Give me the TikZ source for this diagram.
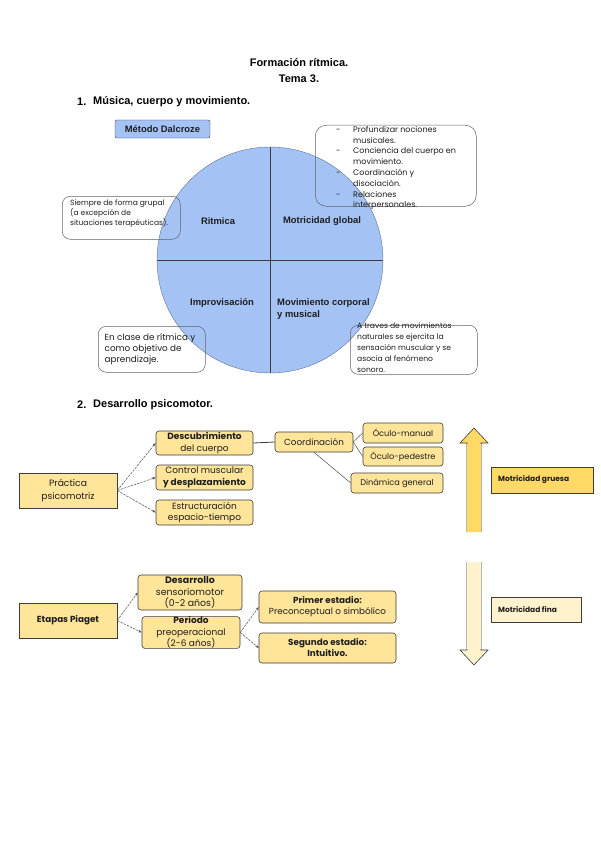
\documentclass[tikz,border=0pt]{standalone}
\usepackage{fontspec}
\setmainfont{Liberation Sans}
\newfontfamily\gothic{Poppins}
\usetikzlibrary{arrows.meta}
\definecolor{dblue}{HTML}{A4C2F4}
\definecolor{ylw}{HTML}{FFE599}
\definecolor{ylwd}{HTML}{FFD966}
\definecolor{ylwl}{HTML}{FFF2CC}
\definecolor{edgec}{HTML}{3C3C3C}
\definecolor{txt}{HTML}{1E1E1E}
\tikzset{
  ybox/.style={draw=edgec, fill=ylw, line width=0.6pt, rounded corners=3pt, align=center,
    inner sep=0pt, text=txt, font=\gothic\fontsize{9}{11.5}\selectfont},
  sqbox/.style={ybox, rounded corners=0pt},
  callout/.style={draw=edgec!80, line width=0.5pt, rounded corners=8pt, inner sep=0pt},
  ctext/.style={anchor=north west, inner sep=0pt, align=left, text=txt},
  quad/.style={font=\bfseries\fontsize{9.4}{12}\selectfont, text=txt, inner sep=0pt},
  head/.style={font=\bfseries\fontsize{11}{13}\selectfont, text=black, inner sep=0pt},
  conn/.style={draw=edgec!90, line width=0.5pt, dash pattern=on 2.5pt off 1pt, -{Stealth[length=3.5pt,width=2.5pt]}},
  plain/.style={draw=edgec!90, line width=0.5pt},
}
\begin{document}
\begin{tikzpicture}[x=1pt,y=-1pt]
\useasboundingbox (0,0) rectangle (600,848);
\fill[white] (0,0) rectangle (600,848);

% titles
\node[head] (t1) at (299,63) {Formación rítmica.};
\node[head] (t2) at (299,79) {Tema 3.};
\node[head, anchor=west] (h1n) at (77,102) {1.};
\node[head, anchor=west] (h1) at (93,102) {Música, cuerpo y movimiento.};

% Dalcroze
\node[draw=edgec, fill=dblue, rounded corners=2pt, minimum width=95, minimum height=18, inner sep=0pt,
  font=\bfseries\fontsize{9.4}{11}\selectfont, text=txt] (dal) at (162.5,129) {Método Dalcroze};

% circle
\node[circle, fill=dblue, draw=dblue!60!black, line width=0.4pt, minimum size=226pt, inner sep=0pt] (circ) at (270,260) {};
\draw[edgec, line width=0.7pt] (circ.north) -- (circ.south);
\draw[edgec, line width=0.7pt] (circ.west) -- (circ.east);
\node[quad] (q1) at (218,221) {Ritmica};
\node[quad] (q2) at (322,221) {Motricidad global};
\node[quad] (q3) at (222,303) {Improvisación};
\node[quad, anchor=west, align=left] (q4) at (277,309) {Movimiento corporal\\y musical};

% callouts
\node[callout, minimum width=118, minimum height=43, anchor=north west] (c1) at (62,196) {};
\node[ctext, font=\gothic\fontsize{7.5}{8.8}\selectfont] (c1t) at (70,200) {Siempre de forma grupal\\(a excepción de\\situaciones terapéuticas).};

\node[callout, rounded corners=11pt, minimum width=161, minimum height=81, anchor=north west] (c2) at (315,125) {};
\node[ctext, font=\gothic\fontsize{8}{10.8}\selectfont] (c2t) at (336,124.5) {\begin{tabular}{@{}p{17pt}@{}l@{}}
-&Profundizar nociones\\ &musicales.\\
-&Conciencia del cuerpo en\\ &movimiento.\\
-&Coordinación y\\ &disociación.\\
-&Relaciones\\ &interpersonales.\end{tabular}};

\node[callout, minimum width=107, minimum height=46, anchor=north west] (c3) at (98,326) {};
\node[ctext, font=\gothic\fontsize{8.8}{11.2}\selectfont] (c3t) at (104.5,333.5) {En clase de rítmica y\\como objetivo de\\aprendizaje.};

\node[callout, minimum width=127, minimum height=49, anchor=north west] (c4) at (350,325) {};
\node[ctext, font=\gothic\fontsize{7.6}{11}\selectfont] (c4t) at (357,322.5) {A traves de movimientos\\naturales se ejercita la\\sensación muscular y se\\asocia al fenómeno\\sonoro.};

% section 2
\node[head, anchor=west] (h2n) at (77,405) {2.};
\node[head, anchor=west] (h2) at (93,405) {Desarrollo psicomotor.};

\node[sqbox, minimum width=98, minimum height=35, font=\gothic\fontsize{9.2}{13}\selectfont] (prac) at (68,490.5) {Práctica\\psicomotriz};
\node[ybox, minimum width=97, minimum height=24] (desc) at (204.5,443) {\bfseries Descubrimiento\\del cuerpo};
\node[ybox, minimum width=97, minimum height=25] (ctrl) at (204.5,477.5) {Control muscular\\\bfseries y desplazamiento};
\node[ybox, minimum width=97, minimum height=25] (estr) at (204.5,512.5) {Estructuración\\espacio-tiempo};
\node[ybox, minimum width=78, minimum height=20, font=\gothic\fontsize{8.8}{10}\selectfont] (coord) at (314,442) {Coordinación};
\node[ybox, minimum width=80, minimum height=20, font=\gothic\fontsize{8.2}{10}\selectfont] (ocm) at (403,433) {Óculo-manual};
\node[ybox, minimum width=80, minimum height=19, font=\gothic\fontsize{8.2}{10}\selectfont] (ocp) at (403,456.5) {Óculo-pedestre};
\node[ybox, minimum width=92, minimum height=20, font=\gothic\fontsize{8.2}{10}\selectfont] (din) at (397,483) {Dinámica general};

\draw[conn] (prac.east) -- (desc.west);
\draw[conn] (prac.east) -- (ctrl.west);
\draw[conn] (prac.east) -- (estr.west);
\draw[edgec, line width=0.8pt] (desc.east) -- (coord.west);
\draw[plain] (coord.east) -- (ocm.west);
\draw[plain] (coord.east) -- (ocp.west);
\draw[plain] (coord.south) -- (din.west);

% block arrows
\draw[edgec, line width=0.6pt, fill=ylwd] (467,532) -- (467,443) -- (460,443) -- (474,428) -- (488,443) -- (481,443) -- (481,532);
\fill[ylwd] (467.3,532) rectangle (480.7,444);
\draw[edgec, line width=0.6pt, fill=ylwl] (467,562) -- (467,650) -- (460,650) -- (474,665) -- (488,650) -- (481,650) -- (481,562);
\fill[ylwl] (467.3,562) rectangle (480.7,649);

\node[draw=edgec, fill=ylwd, line width=0.6pt, minimum width=102, minimum height=26, anchor=north west, inner sep=0pt] (mg) at (491,467) {};
\node[anchor=west, inner sep=0pt, text=txt, font=\gothic\bfseries\fontsize{7.5}{9}\selectfont] (mgt) at (498,480) {Motricidad gruesa};
\node[draw=edgec, fill=ylwl, line width=0.6pt, minimum width=90, minimum height=25, anchor=north west, inner sep=0pt] (mf) at (491,597) {};
\node[anchor=west, inner sep=0pt, text=txt, font=\gothic\bfseries\fontsize{7.5}{9}\selectfont] (mft) at (498,609.5) {Motricidad fina};

% Piaget
\node[sqbox, minimum width=98, minimum height=35, font=\gothic\bfseries\fontsize{8.8}{10}\selectfont] (piag) at (68,620.5) {Etapas Piaget};
\node[ybox, minimum width=104, minimum height=35, font=\gothic\fontsize{9.4}{11.6}\selectfont] (sens) at (190,592.5) {\bfseries Desarrollo\\sensoriomotor\\(0-2 años)};
\node[ybox, minimum width=98, minimum height=31, font=\gothic\fontsize{9}{11.5}\selectfont] (preo) at (191,632.5) {\bfseries Periodo\\preoperacional\\(2-6 años)};
\node[ybox, minimum width=137, minimum height=32, font=\gothic\fontsize{8.8}{11}\selectfont] (prim) at (327.5,607) {\bfseries Primer estadio:\\Preconceptual o simbólico};
\node[ybox, minimum width=137, minimum height=30, font=\gothic\fontsize{8.8}{11}\selectfont] (seg) at (327.5,648) {\bfseries Segundo estadio:\\\bfseries Intuitivo.};

\draw[conn] (piag.east) -- (sens.west);
\draw[conn] (piag.east) -- (preo.west);
\draw[conn] (preo.east) -- (prim.west);
\draw[conn] (preo.east) -- (seg.west);
\end{tikzpicture}
\end{document}
